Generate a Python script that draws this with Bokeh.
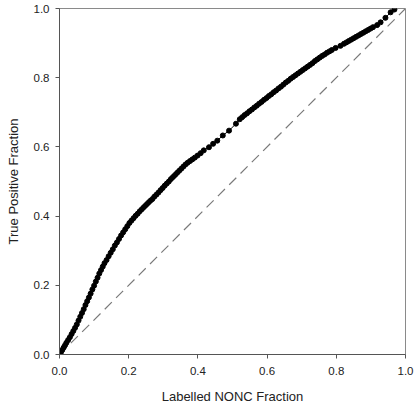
from bokeh.plotting import figure
from bokeh.models import Range1d, FixedTicker, PrintfTickFormatter
from bokeh.embed import file_html
from bokeh.resources import INLINE

# ROC operating points: labelled NONC fraction vs true positive fraction
fpr = [0.000, 0.004, 0.008, 0.012, 0.016, 0.020, 0.025, 0.030, 0.035, 0.040,
       0.045, 0.050, 0.055, 0.060, 0.065, 0.070, 0.075, 0.080, 0.085, 0.090,
       0.095, 0.100, 0.105, 0.110, 0.115, 0.120, 0.125, 0.130, 0.136, 0.142,
       0.148, 0.154, 0.160, 0.166, 0.172, 0.178, 0.184, 0.190, 0.196, 0.202,
       0.208, 0.214, 0.220, 0.226, 0.232, 0.238, 0.244, 0.250, 0.256, 0.262,
       0.268, 0.274, 0.280, 0.286, 0.292, 0.298, 0.304, 0.310, 0.316, 0.322,
       0.328, 0.334, 0.340, 0.346, 0.352, 0.358, 0.364, 0.370, 0.377, 0.384,
       0.391, 0.399, 0.408,
       0.417, 0.432, 0.444, 0.456, 0.472, 0.490, 0.510,
       0.521, 0.528, 0.535, 0.542, 0.549, 0.556, 0.563, 0.570, 0.577, 0.584,
       0.591, 0.598, 0.605, 0.612, 0.619, 0.626, 0.633, 0.640, 0.647, 0.654,
       0.661, 0.668, 0.675, 0.682, 0.689, 0.696, 0.703, 0.710, 0.717, 0.724,
       0.731, 0.738, 0.745, 0.752, 0.759, 0.766, 0.773, 0.780, 0.787,
       0.798, 0.812,
       0.822, 0.829, 0.836, 0.843, 0.850, 0.857, 0.864, 0.871, 0.878, 0.885,
       0.892, 0.899, 0.906,
       0.918, 0.928, 0.942, 0.957, 0.968]

tpr = [0.000, 0.006, 0.013, 0.020, 0.027, 0.034, 0.042, 0.050, 0.059, 0.068,
       0.077, 0.087, 0.098, 0.109, 0.120, 0.131, 0.143, 0.154, 0.165, 0.176,
       0.188, 0.199, 0.211, 0.222, 0.234, 0.244, 0.254, 0.264, 0.273, 0.284,
       0.294, 0.304, 0.315, 0.324, 0.334, 0.344, 0.353, 0.362, 0.371, 0.380,
       0.387, 0.394, 0.401, 0.407, 0.414, 0.420, 0.426, 0.432, 0.438, 0.444,
       0.449, 0.456, 0.462, 0.468, 0.475, 0.481, 0.488, 0.494, 0.500, 0.507,
       0.513, 0.519, 0.525, 0.531, 0.537, 0.543, 0.549, 0.554, 0.559, 0.564,
       0.569, 0.575, 0.582,
       0.590, 0.599, 0.609, 0.618, 0.633, 0.647, 0.667,
       0.680, 0.686, 0.692, 0.697, 0.703, 0.708, 0.714, 0.719, 0.725, 0.730,
       0.736, 0.741, 0.747, 0.752, 0.758, 0.763, 0.769, 0.774, 0.780, 0.786,
       0.791, 0.797, 0.802, 0.807, 0.812, 0.817, 0.822, 0.827, 0.832, 0.837,
       0.842, 0.848, 0.853, 0.858, 0.863, 0.867, 0.872, 0.876, 0.880,
       0.886, 0.892,
       0.898, 0.902, 0.906, 0.910, 0.914, 0.918, 0.922, 0.926, 0.930, 0.934,
       0.938, 0.942, 0.946,
       0.952, 0.960, 0.973, 0.989, 0.997]

# line of no discrimination
chance = [0.0, 1.0]

ticks = [0.0, 0.2, 0.4, 0.6, 0.8, 1.0]

FONT = "Liberation Sans"

p = figure(width=414, height=406, output_backend="svg", toolbar_location=None,
           x_range=Range1d(0, 1), y_range=Range1d(0, 1),
           min_border_left=59, min_border_right=9,
           min_border_top=8, min_border_bottom=52,
           background_fill_color="white", border_fill_color="white")

p.grid.visible = False
p.outline_line_color = "#8a8a8a"
p.outline_line_width = 1

p.line(chance, chance, line_color="#7a7a7a", line_width=1.2, line_dash="10 6")
p.line(fpr, tpr, line_color="black", line_width=1)
p.scatter(fpr, tpr, size=5, fill_color="black", line_color="black")

for ax in (p.xaxis[0], p.yaxis[0]):
    ax.ticker = FixedTicker(ticks=ticks)
    ax.formatter = PrintfTickFormatter(format="%.1f")
    ax.axis_line_color = "#555555"
    ax.major_tick_line_color = "#555555"
    ax.major_tick_out = 4
    ax.major_tick_in = 0
    ax.minor_tick_line_color = None
    ax.major_label_text_font = FONT
    ax.major_label_text_font_size = "11.5px"
    ax.major_label_text_color = "#222222"
    ax.axis_label_text_font = FONT
    ax.axis_label_text_font_size = "13px"
    ax.axis_label_text_font_style = "normal"
    ax.axis_label_text_color = "#222222"

p.xaxis.axis_label = "Labelled NONC Fraction"
p.yaxis.axis_label = "True Positive Fraction"
p.xaxis.major_label_standoff = 8
p.xaxis.axis_label_standoff = 11
p.yaxis.major_label_standoff = 6
p.yaxis.axis_label_standoff = 10

open("out.html", "w").write(file_html(p, INLINE))
